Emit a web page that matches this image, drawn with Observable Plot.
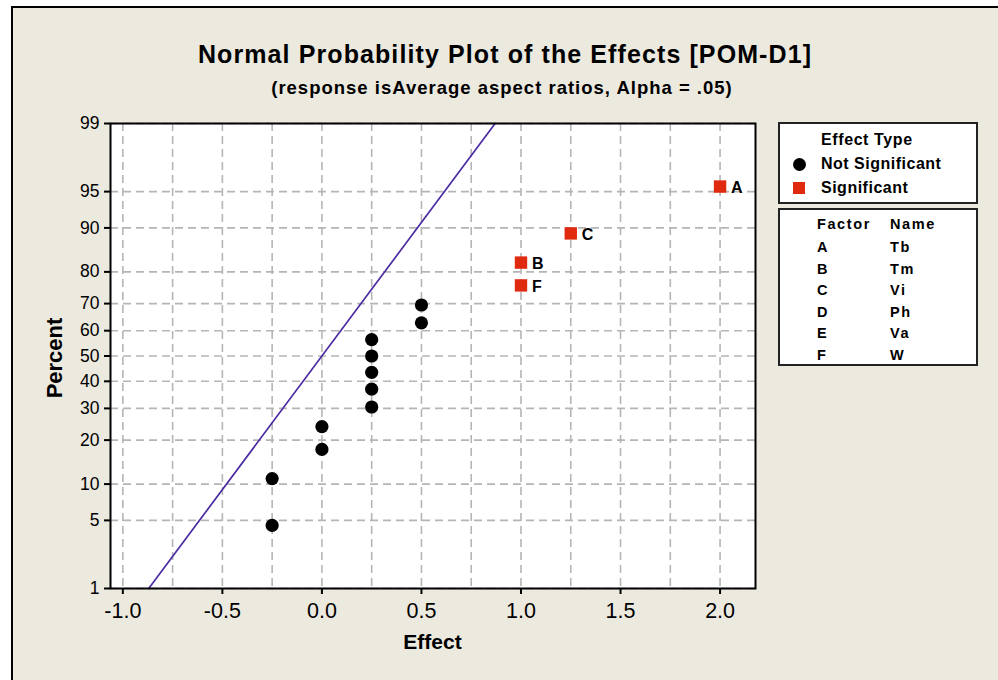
<!DOCTYPE html>
<html>
<head>
<meta charset="utf-8">
<script src="https://cdn.jsdelivr.net/npm/d3@7"></script>
<script src="https://cdn.jsdelivr.net/npm/@observablehq/plot@0.6"></script>
<style>
  body { margin: 0; background: white; }
  #wrap { position: relative; width: 998px; height: 680px; background: white; overflow: hidden; font-family: "Liberation Sans", Arial, sans-serif; }
  #bg { position: absolute; left: 11px; top: 6px; width: 1000px; height: 700px; background: #ECE9DF; border-left: 2px solid #000; border-top: 2px solid #000; }
  #chart { position: absolute; left: 0; top: 0; }
  .t { position: absolute; white-space: nowrap; font-weight: bold; color: #000; }
  .box { position: absolute; background: white; border: 2px solid #222; box-sizing: border-box; }
</style>
</head>
<body>
<div id="wrap">
  <div id="bg"></div>
  <div id="chart"></div>
  <div class="t" id="title" style="left:0;width:1010px;text-align:center;top:40px;font-size:25px;letter-spacing:1.1px;">Normal Probability Plot of the Effects [POM-D1]</div>
  <div class="t" id="subtitle" style="left:0;width:1004px;text-align:center;top:77px;font-size:18.5px;letter-spacing:1px;">(response isAverage aspect ratios, Alpha = .05)</div>
  <div class="t" style="left:0;width:865px;text-align:center;top:630px;font-size:21px;">Effect</div>
  <div class="t" style="left:55px;top:358px;font-size:22px;transform:translate(-50%,-50%) rotate(-90deg);">Percent</div>
  <div class="box" id="legend1" style="left:778px;top:122px;width:200px;height:82px;"></div>
  <div class="box" id="legend2" style="left:778px;top:208px;width:200px;height:158px;"></div>
</div>
<script>
// ---- data ----
const nsEffects = [-0.25, -0.25, 0.0, 0.0, 0.25, 0.25, 0.25, 0.25, 0.25, 0.5, 0.5];
const nsPercent = [4.5, 11.0, 17.5, 24.0, 30.5, 37.0, 43.5, 50.0, 56.5, 63.0, 69.5];
const sigLabels = ["F", "B", "C", "A"];
const sigEffects = [1.0, 1.0, 1.25, 2.0];
const sigPercent = [76.0, 82.5, 89.0, 95.5];
const lineEffects = [-0.87, 0.87];
const linePercent = [1, 99];
const xTicks = [-1.0, -0.5, 0.0, 0.5, 1.0, 1.5, 2.0];
const xGridVals = [-1.0, -0.75, -0.5, -0.25, 0.0, 0.25, 0.5, 0.75, 1.0, 1.25, 1.5, 1.75, 2.0];
const yTicks = [1, 5, 10, 20, 30, 40, 50, 60, 70, 80, 90, 95, 99];
const legendTypes = ["Not Significant", "Significant"];
const factorCodes = ["A", "B", "C", "D", "E", "F"];
const factorNames = ["Tb", "Tm", "Vi", "Ph", "Va", "W"];

// inverse normal CDF (Acklam) for the normal-probability axis
function probit(p) {
  const a = [-3.969683028665376e+01, 2.209460984245205e+02, -2.759285104469687e+02, 1.383577518672690e+02, -3.066479806614716e+01, 2.506628277459239e+00];
  const b = [-5.447609879822406e+01, 1.615858368580409e+02, -1.556989798598866e+02, 6.680131188771972e+01, -1.328068155288572e+01];
  const c = [-7.784894002430293e-03, -3.223964580411365e-01, -2.400758277161838e+00, -2.549732539343734e+00, 4.374664141464968e+00, 2.938163982698783e+00];
  const d = [7.784695709041462e-03, 3.224671290700398e-01, 2.445134137142996e+00, 3.754408661907416e+00];
  const pl = 0.02425, ph = 1 - pl;
  let q, r;
  if (p < pl) {
    q = Math.sqrt(-2 * Math.log(p));
    return (((((c[0]*q+c[1])*q+c[2])*q+c[3])*q+c[4])*q+c[5]) / ((((d[0]*q+d[1])*q+d[2])*q+d[3])*q+1);
  } else if (p <= ph) {
    q = p - 0.5; r = q * q;
    return (((((a[0]*r+a[1])*r+a[2])*r+a[3])*r+a[4])*r+a[5])*q / (((((b[0]*r+b[1])*r+b[2])*r+b[3])*r+b[4])*r+1);
  } else {
    q = Math.sqrt(-2 * Math.log(1 - p));
    return -(((((c[0]*q+c[1])*q+c[2])*q+c[3])*q+c[4])*q+c[5]) / ((((d[0]*q+d[1])*q+d[2])*q+d[3])*q+1);
  }
}
const z = pct => probit(pct / 100);

const nsData = nsEffects.map((e, i) => ({effect: e, z: z(nsPercent[i])}));
const sigData = sigEffects.map((e, i) => ({effect: e, z: z(sigPercent[i]), label: sigLabels[i]}));
const lineData = lineEffects.map((e, i) => ({effect: e, z: z(linePercent[i])}));
const yTickZ = yTicks.map(z);
const yLabel = new Map(yTickZ.map((v, i) => [v, String(yTicks[i])]));

const gridStyle = {stroke: "#b5b5b5", strokeOpacity: 1, strokeWidth: 1.6, strokeDasharray: "8,5"};

const chart = Plot.plot({
  width: 998,
  height: 680,
  marginLeft: 110,
  marginRight: 243,
  marginTop: 123,
  marginBottom: 92,
  style: {background: "transparent", fontFamily: "'Liberation Sans', Arial, sans-serif", color: "black", overflow: "visible"},
  x: {domain: [-1.062, 2.178]},
  y: {domain: [z(1), z(99)]},
  marks: [
    Plot.frame({fill: "white", stroke: null}),
    Plot.gridX(xGridVals, gridStyle),
    Plot.gridY(yTickZ, gridStyle),
    Plot.line(lineData, {x: "effect", y: "z", stroke: "#4b2ca3", strokeWidth: 1.7}),
    Plot.dot(nsData, {x: "effect", y: "z", r: 6.6, fill: "black", stroke: null}),
    Plot.dot(sigData, {x: "effect", y: "z", symbol: "square", r: 7, fill: "#e02a10", stroke: null}),
    Plot.text(sigData, {x: "effect", y: "z", text: "label", dx: 11, dy: 1, textAnchor: "start", fontWeight: "bold", fontSize: 16, fill: "black"}),
    Plot.frame({stroke: "black", strokeWidth: 2}),
    Plot.axisX({ticks: xTicks, tickFormat: d => d.toFixed(1), tickSize: 6, tickPadding: 8, fontSize: 21.5, label: null, strokeWidth: 2}),
    Plot.axisY({ticks: yTickZ, tickFormat: v => yLabel.get(v), tickSize: 6, tickPadding: 5, fontSize: 17.5, label: null, strokeWidth: 2})
  ]
});
document.getElementById("chart").appendChild(chart);

// legends
const l1 = document.getElementById("legend1");
l1.innerHTML =
  `<div class="t" style="left:41px;top:7px;font-size:16px;letter-spacing:0.6px;">Effect Type</div>` +
  legendTypes.map((s, i) => {
    const top = 31 + i * 24;
    const sw = i === 0
      ? `<div style="position:absolute;left:13px;top:${top + 3}px;width:13px;height:13px;border-radius:50%;background:black;"></div>`
      : `<div style="position:absolute;left:13px;top:${top + 3}px;width:12px;height:12px;background:#e02a10;"></div>`;
    return sw + `<div class="t" style="left:41px;top:${top}px;font-size:16px;letter-spacing:0.5px;">${s}</div>`;
  }).join("");

const l2 = document.getElementById("legend2");
l2.innerHTML =
  `<div class="t" style="left:37px;top:6px;font-size:14.5px;letter-spacing:1.6px;">Factor</div>` +
  `<div class="t" style="left:110px;top:6px;font-size:14.5px;letter-spacing:1.6px;">Name</div>` +
  factorCodes.map((f, i) => {
    const top = 29 + i * 21.6;
    return `<div class="t" style="left:37px;top:${top}px;font-size:14.5px;letter-spacing:1.6px;">${f}</div>` +
           `<div class="t" style="left:110px;top:${top}px;font-size:14.5px;letter-spacing:1.6px;">${factorNames[i]}</div>`;
  }).join("");
</script>
</body>
</html>
